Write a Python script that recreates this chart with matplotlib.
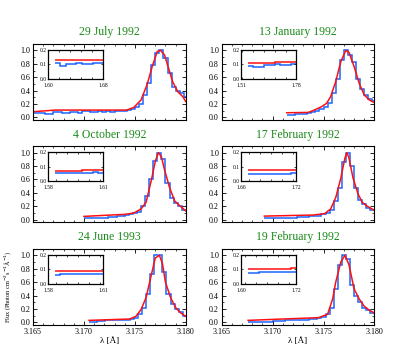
import matplotlib
matplotlib.use('Agg')
import matplotlib.pyplot as plt
import numpy as np
from matplotlib.ticker import MultipleLocator, FixedLocator

plt.rcParams['font.family'] = ['Liberation Serif', 'DejaVu Serif']

titles = ['29 July 1992', '13 January 1992', '4 October 1992',
          '17 February 1992', '24 June 1993', '19 February 1992']

# red model curves (wavelength in Angstrom, normalised flux)
red_x = [
    [3.1650, 3.1672, 3.1742, 3.1749, 3.1756, 3.1762, 3.1767, 3.1772, 3.1775, 3.1779, 3.1782, 3.1787, 3.1792, 3.1797, 3.1800],
    [3.1714, 3.1735, 3.1741, 3.1748, 3.1753, 3.1757, 3.1762, 3.1767, 3.1772, 3.1775, 3.1780, 3.1785, 3.1790, 3.1795, 3.1800],
    [3.1700, 3.1740, 3.1749, 3.1756, 3.1761, 3.1766, 3.1770, 3.1773, 3.1776, 3.1779, 3.1784, 3.1789, 3.1794, 3.1800],
    [3.1692, 3.1740, 3.1751, 3.1757, 3.1762, 3.1767, 3.1771, 3.1773, 3.1775, 3.1779, 3.1784, 3.1788, 3.1793, 3.1800],
    [3.1705, 3.1745, 3.1751, 3.1756, 3.1761, 3.1766, 3.1770, 3.1774, 3.1777, 3.1780, 3.1785, 3.1790, 3.1795, 3.1800],
    [3.1676, 3.1710, 3.1745, 3.1754, 3.1759, 3.1762, 3.1767, 3.1771, 3.1775, 3.1780, 3.1785, 3.1790, 3.1795, 3.1800],
]
red_y = [
    [0.085, 0.11, 0.11, 0.15, 0.26, 0.49, 0.76, 0.985, 1.0, 0.935, 0.785, 0.535, 0.385, 0.31, 0.235],
    [0.07, 0.075, 0.11, 0.16, 0.21, 0.31, 0.535, 0.835, 1.0, 0.97, 0.76, 0.51, 0.335, 0.26, 0.22],
    [0.05, 0.08, 0.10, 0.16, 0.26, 0.58, 0.87, 1.0, 0.94, 0.75, 0.48, 0.28, 0.21, 0.13],
    [0.054, 0.07, 0.09, 0.16, 0.33, 0.62, 0.92, 1.0, 0.92, 0.62, 0.38, 0.26, 0.20, 0.14],
    [0.03, 0.05, 0.09, 0.19, 0.37, 0.70, 0.96, 1.0, 0.88, 0.60, 0.37, 0.22, 0.14, 0.09],
    [0.03, 0.05, 0.07, 0.12, 0.35, 0.60, 0.90, 1.0, 0.86, 0.50, 0.35, 0.24, 0.18, 0.14],
]

# blue observed spectra, 0.0004 A bins starting at blue_start
bin_width = 0.0004
blue_start = [3.1650, 3.1714, 3.1700, 3.1692, 3.1705, 3.1676]
blue_y = [
    [0.06, 0.07, 0.07, 0.05, 0.05, 0.08, 0.08, 0.07, 0.07, 0.08, 0.08, 0.07, 0.09, 0.10, 0.08, 0.08,
     0.10, 0.08, 0.09, 0.08, 0.09, 0.10, 0.10, 0.11, 0.12, 0.15, 0.20, 0.33, 0.52, 0.78, 0.96, 1.0,
     0.88, 0.66, 0.46, 0.40, 0.36, 0.30],
    [0.04, 0.04, 0.05, 0.05, 0.05, 0.07, 0.08, 0.09, 0.12, 0.16, 0.22, 0.36, 0.58, 0.86, 1.0, 0.93,
     0.82, 0.58, 0.42, 0.33, 0.28, 0.24],
    [0.02, 0.02, 0.02, 0.03, 0.03, 0.03, 0.04, 0.04, 0.05, 0.05, 0.07, 0.08, 0.10, 0.12, 0.20, 0.36,
     0.60, 0.88, 1.0, 0.90, 0.55, 0.33, 0.25, 0.20, 0.15],
    [0.02, 0.02, 0.02, 0.02, 0.02, 0.03, 0.03, 0.03, 0.04, 0.04, 0.04, 0.05, 0.05, 0.06, 0.08, 0.10,
     0.14, 0.28, 0.48, 0.86, 1.0, 0.80, 0.48, 0.30, 0.24, 0.18, 0.14],
    [0.01, 0.01, 0.02, 0.02, 0.03, 0.03, 0.03, 0.03, 0.04, 0.04, 0.05, 0.07, 0.12, 0.22, 0.42, 0.72,
     1.0, 1.0, 0.75, 0.42, 0.28, 0.20, 0.15, 0.10],
    [0.01, 0.01, 0.01, 0.01, 0.01, 0.01, 0.02, 0.02, 0.02, 0.03, 0.03, 0.03, 0.04, 0.04, 0.04, 0.05,
     0.05, 0.06, 0.08, 0.12, 0.22, 0.50, 0.85, 1.0, 0.95, 0.55, 0.40, 0.30, 0.22, 0.18, 0.14],
]

# insets: zoom on the continuum
inset_xlim = [(1.60, 1.68), (1.51, 1.78), (1.58, 1.61), (1.66, 1.72), (1.58, 1.61), (1.60, 1.72)]
inset_ticklabels = [('1.60', '1.68'), ('1.51', '1.78'), ('1.58', '1.61'),
                    ('1.66', '1.72'), ('1.58', '1.61'), ('1.60', '1.72')]
inset_red = [
    [0.128, 0.128, 0.128, 0.128, 0.128, 0.128, 0.128, 0.128, 0.128],
    [0.112, 0.112, 0.112, 0.112, 0.112, 0.115, 0.118, 0.118, 0.118],
    [0.070, 0.070, 0.070, 0.070, 0.072, 0.074, 0.074, 0.074, 0.074],
    [0.076, 0.076, 0.076, 0.076, 0.076, 0.076, 0.076, 0.076, 0.076],
    [0.085, 0.085, 0.085, 0.085, 0.085, 0.085, 0.088, 0.088, 0.088],
    [0.103, 0.103, 0.103, 0.103, 0.103, 0.103, 0.103, 0.103, 0.106],
]
inset_blue = [
    [0.110, 0.085, 0.100, 0.100, 0.112, 0.100, 0.100, 0.112, 0.108],
    [0.088, 0.084, 0.084, 0.094, 0.094, 0.104, 0.096, 0.096, 0.104],
    [0.058, 0.054, 0.056, 0.056, 0.058, 0.058, 0.058, 0.062, 0.058],
    [0.052, 0.052, 0.052, 0.052, 0.052, 0.052, 0.052, 0.052, 0.058],
    [0.062, 0.066, 0.066, 0.066, 0.066, 0.066, 0.070, 0.066, 0.070],
    [0.074, 0.074, 0.078, 0.078, 0.078, 0.078, 0.078, 0.078, 0.080],
]

RED = '#ff1010'
BLUE = '#1e64ff'
GREEN = '#1a8a1a'

fig = plt.figure(figsize=(3.95, 3.64), dpi=100)
lefts = [0.0835, 0.561]
bottoms = [0.670, 0.389, 0.107]

for i in range(6):
    row, col = divmod(i, 2)
    ax = fig.add_axes([lefts[col], bottoms[row], 0.387, 0.210])

    edges = blue_start[i] + bin_width * np.arange(len(blue_y[i]) + 1)
    ax.stairs(blue_y[i], edges, color=BLUE, lw=1.1, baseline=None)
    ax.plot(red_x[i], red_y[i], color=RED, lw=1.1)

    ax.set_xlim(3.165, 3.180)
    ax.set_ylim(-0.04, 1.1)
    ax.xaxis.set_major_locator(FixedLocator([3.165, 3.170, 3.175, 3.180]))
    ax.xaxis.set_minor_locator(MultipleLocator(0.001))
    ax.yaxis.set_major_locator(FixedLocator([0.0, 0.2, 0.4, 0.6, 0.8, 1.0]))
    ax.yaxis.set_minor_locator(MultipleLocator(0.1))
    ax.tick_params(which='both', direction='in', top=True, right=True, labelsize=5.8, pad=2)
    ax.tick_params(which='major', length=3, width=0.6)
    ax.tick_params(which='minor', length=1.5, width=0.5)
    ax.set_yticklabels(['0.0', '0.2', '0.4', '0.6', '0.8', '1.0'])
    if row == 2:
        ax.set_xticklabels(['3.165', '3.170', '3.175', '3.180'])
        ax.set_xlabel('λ [Å]', fontsize=6.5, labelpad=1)
    else:
        ax.set_xticklabels([])
    for s in ax.spines.values():
        s.set_linewidth(0.8)
    ax.set_title(titles[i], color=GREEN, fontsize=8.5, pad=6)

    # inset
    x0, x1 = inset_xlim[i]
    ins = ax.inset_axes([0.10 if col == 0 else 0.13, 0.54, 0.36, 0.38])
    ix = np.linspace(x0 + 0.12 * (x1 - x0), x1, len(inset_blue[i]) + 1)
    ins.stairs(inset_blue[i], ix, color=BLUE, lw=1.1, baseline=None)
    ins.stairs(inset_red[i], ix, color=RED, lw=1.1, baseline=None)
    ins.set_xlim(x0, x1)
    ins.set_ylim(0.0, 0.2)
    ins.set_xticks([x0, x1])
    ins.set_xticklabels(inset_ticklabels[i])
    ins.xaxis.set_minor_locator(MultipleLocator((x1 - x0) / 5))
    ins.set_yticks([0.0, 0.1, 0.2])
    ins.set_yticklabels(['0.0', '0.1', '0.2'])
    ins.tick_params(which='both', direction='in', top=True, right=True, labelsize=4,
                    length=1.5, width=0.5)
    ins.tick_params(axis='y', pad=1)
    ins.tick_params(axis='x', pad=2.8)
    for s in ins.spines.values():
        s.set_linewidth(0.9)

fig.text(0.02, 0.107 + 0.105, 'Flux (Photon cm$^{-2}$s$^{-1}$Å$^{-1}$)', rotation=90,
         fontsize=4.5, ha='center', va='center')

fig.savefig('out.png', dpi=100)
